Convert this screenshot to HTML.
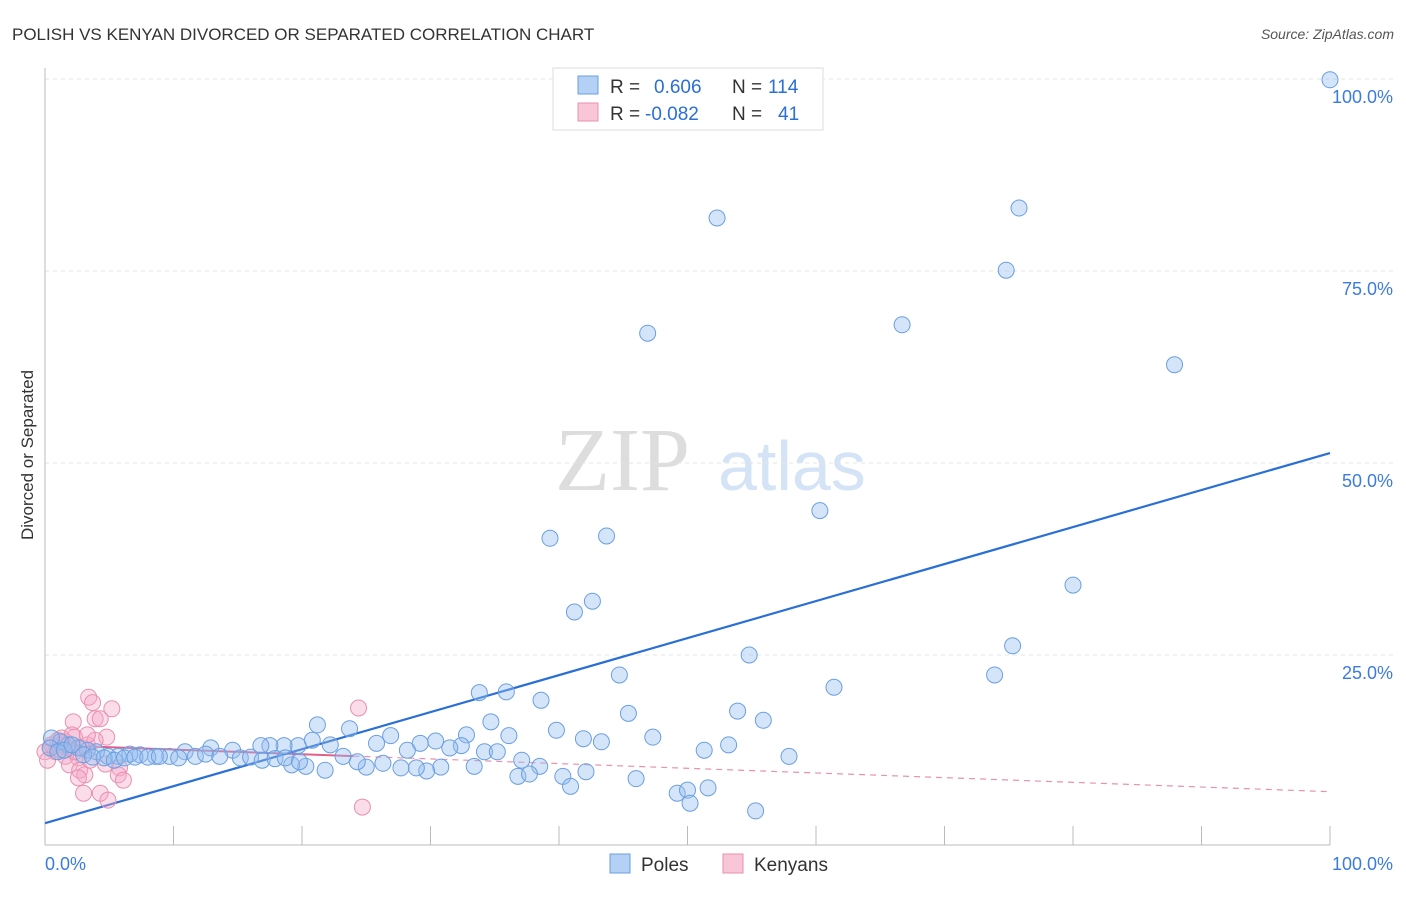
<!DOCTYPE html>
<html><head><meta charset="utf-8"><style>
body{margin:0;background:#fff;font-family:"Liberation Sans",sans-serif;}
svg text{font-family:"Liberation Sans",sans-serif;}
</style></head><body>
<svg width="1406" height="892" id="chart">
<text x="12" y="40" font-size="17" fill="#333">POLISH VS KENYAN DIVORCED OR SEPARATED CORRELATION CHART</text>
<text x="1394" y="39" font-size="14" fill="#555" text-anchor="end" font-style="italic">Source: ZipAtlas.com</text>
<text transform="translate(33,455) rotate(-90)" font-size="17" fill="#333" text-anchor="middle">Divorced or Separated</text>
<g><text x="555" y="490" font-size="90" fill="#ddd" font-family="Liberation Serif" style="font-family:'Liberation Serif',serif">ZIP</text><text x="718" y="490" font-size="70" fill="#d4e3f5">atlas</text></g>
<g id="grid"></g><g id="axes"></g><g id="lines"></g><g id="pts"></g>
<g>
<rect x="553" y="68" width="270" height="62" fill="#fff" stroke="#ddd"/>
<rect x="578" y="76" width="20" height="18" fill="#b4d0f5" stroke="#6a9fe0"/>
<rect x="578" y="103" width="20" height="18" fill="#f8c6d6" stroke="#e890b0"/>
<text x="610" y="93" font-size="19" fill="#333">R = <tspan fill="#2a6fd6" x="654">0.606</tspan><tspan x="732" fill="#333">N =</tspan><tspan x="768" fill="#2a6fd6">114</tspan></text>
<text x="610" y="120" font-size="19" fill="#333">R = <tspan fill="#2a6fd6" x="645">-0.082</tspan><tspan x="732" fill="#333">N =</tspan><tspan x="778" fill="#2a6fd6">41</tspan></text>
</g>
<g>
<rect x="610" y="854" width="20" height="19" fill="#b4d0f5" stroke="#6a9fe0"/>
<text x="641" y="871" font-size="19" fill="#333">Poles</text>
<rect x="723" y="854" width="20" height="19" fill="#f8c6d6" stroke="#e890b0"/>
<text x="754" y="871" font-size="19" fill="#333">Kenyans</text>
</g>
</svg>
<script>
const yTicks=[25,50,75,100];
const yTickLabels=["25.0%","50.0%","75.0%","100.0%"];
const polesX=[100,52.3,75.8,74.8,46.9,66.7,87.9,60.3,39.3,43.7,80.0,41.2,42.6,75.3,73.9,54.8,44.7,61.4,33.8,35.9,38.6,45.4,53.9,55.9,21.2,23.7,34.7,39.8,47.3,41.9,43.3,53.2,51.3,57.9,26.9,32.8,30.4,32.4,36.1,29.2,25.8,28.2,31.5,34.2,35.2,37.1,38.5,36.8,37.7,42.1,40.3,40.9,46.0,49.2,50.0,50.2,51.6,55.3,33.4,30.8,29.7,28.9,27.7,25.0,26.3,24.3,21.8,20.3,19.2,23.2,22.2,20.8,19.7,18.6,17.5,16.8,14.6,12.9,10.9,9.7,8.6,7.4,6.6,5.7,4.9,4.0,3.3,2.6,1.8,1.2,0.5,0.4,1.0,1.5,2.1,3.0,3.7,4.6,5.4,6.2,7.0,8.0,8.9,10.4,11.7,12.5,13.6,15.2,16.0,16.9,17.9,18.7,19.8];
const polesY=[99.9,81.9,83.2,75.1,66.9,68.0,62.8,43.8,40.2,40.5,34.1,30.6,32.0,26.2,22.4,25.0,22.4,20.8,20.1,20.2,19.1,17.4,17.7,16.5,15.9,15.4,16.3,15.2,14.3,14.1,13.7,13.3,12.6,11.8,14.5,14.6,13.8,13.2,14.5,13.5,13.5,12.6,12.9,12.4,12.4,11.3,10.5,9.2,9.5,9.8,9.2,7.9,8.9,7.0,7.4,5.7,7.7,4.7,10.5,10.4,9.9,10.3,10.3,10.4,10.9,11.1,10.0,10.5,10.7,11.8,13.3,13.9,13.2,13.2,13.2,13.2,12.6,12.9,12.4,11.8,11.8,12.0,12.1,11.8,11.8,12.4,12.6,12.9,13.3,13.7,14.2,12.9,12.4,12.6,13.3,12.0,11.7,11.6,11.3,11.6,11.7,11.7,11.8,11.6,11.8,12.1,11.8,11.6,11.7,11.3,11.5,11.6,11.1];
const kenX=[3.4,3.7,5.2,3.9,4.3,2.2,24.4,24.7,4.8,2.3,3.3,1.2,0.4,0.8,1.6,2.6,1.9,2.7,3.1,2.6,5.8,5.7,6.1,3.0,4.3,4.9,3.9,1.0,1.6,0.5,1.2,1.9,0,2.3,2.9,3.5,0.2,1.3,2.1,4.7,3.3];
const kenY=[19.5,18.8,18.0,16.7,16.7,16.3,18.1,5.2,14.3,14.3,13.3,13.3,12.9,12.4,11.8,11.6,10.7,10.0,9.4,9.0,10.3,9.4,8.7,7.0,7.0,6.1,13.9,13.9,13.7,13.3,12.6,12.9,12.4,12.4,12.9,11.3,11.3,14.2,14.6,10.8,14.6];
const polesTrend=[3.1,51.3];
const kenTrend=[13.3,7.2];
const NS="http://www.w3.org/2000/svg";
const X=v=>45+v*12.85, Y=v=>847-v*7.68;
function mk(t,a,p){const e=document.createElementNS(NS,t);for(const k in a)e.setAttribute(k,a[k]);document.getElementById(p).appendChild(e);return e;}
yTicks.forEach((t,i)=>{
 const g=mk('line',{x1:45,x2:1394,y1:Y(t),y2:Y(t),stroke:'#e4e4e4','stroke-dasharray':'4,4'},'grid');
 
 
 const l=mk('text',{x:1393,y:Y(t)+24,'font-size':18,fill:'#3b7be0','text-anchor':'end'},'axes');
 l.textContent=yTickLabels[i];
 
 
});
const ax=mk('line',{x1:45,x2:1330,y1:845,y2:845,stroke:'#bbb'},'axes');


const ay=mk('line',{x1:45,x2:45,y1:68,y2:845,stroke:'#bbb'},'axes');


for(let i=0;i<=10;i++){const t=mk('line',{x1:X(i*10),x2:X(i*10),y1:826,y2:845,stroke:'#bbb'},'axes');
 
 }
const x0=mk('text',{x:45,y:870,'font-size':18,fill:'#3b7be0'},'axes');x0.textContent='0.0%';


const x1=mk('text',{x:1393,y:870,'font-size':18,fill:'#3b7be0','text-anchor':'end'},'axes');x1.textContent='100.0%';


kenX.forEach((v,i)=>{const c=mk('circle',{cx:X(v),cy:Y(kenY[i]),r:8,fill:'rgba(245,170,200,0.4)',stroke:'#e890b0','stroke-width':1},'pts');
 
 });
polesX.forEach((v,i)=>{const c=mk('circle',{cx:X(v),cy:Y(polesY[i]),r:8,fill:'rgba(150,190,240,0.4)',stroke:'#6a9fe0','stroke-width':1},'pts');
 
 });
const kAt=v=>kenTrend[0]+(kenTrend[1]-kenTrend[0])*v/100;
const k1=mk('line',{x1:X(0),y1:Y(kAt(0)),x2:X(24),y2:Y(kAt(24)),stroke:'#e0608a','stroke-width':2},'lines');


const k2=mk('line',{x1:X(24),y1:Y(kAt(24)),x2:X(100),y2:Y(kAt(100)),stroke:'#e890b0','stroke-width':1.2,'stroke-dasharray':'6,5'},'lines');


const p=mk('line',{x1:X(0),y1:Y(polesTrend[0]),x2:X(100),y2:Y(polesTrend[1]),stroke:'#2a6fd6','stroke-width':2.2},'lines');


</script>
</body></html>
